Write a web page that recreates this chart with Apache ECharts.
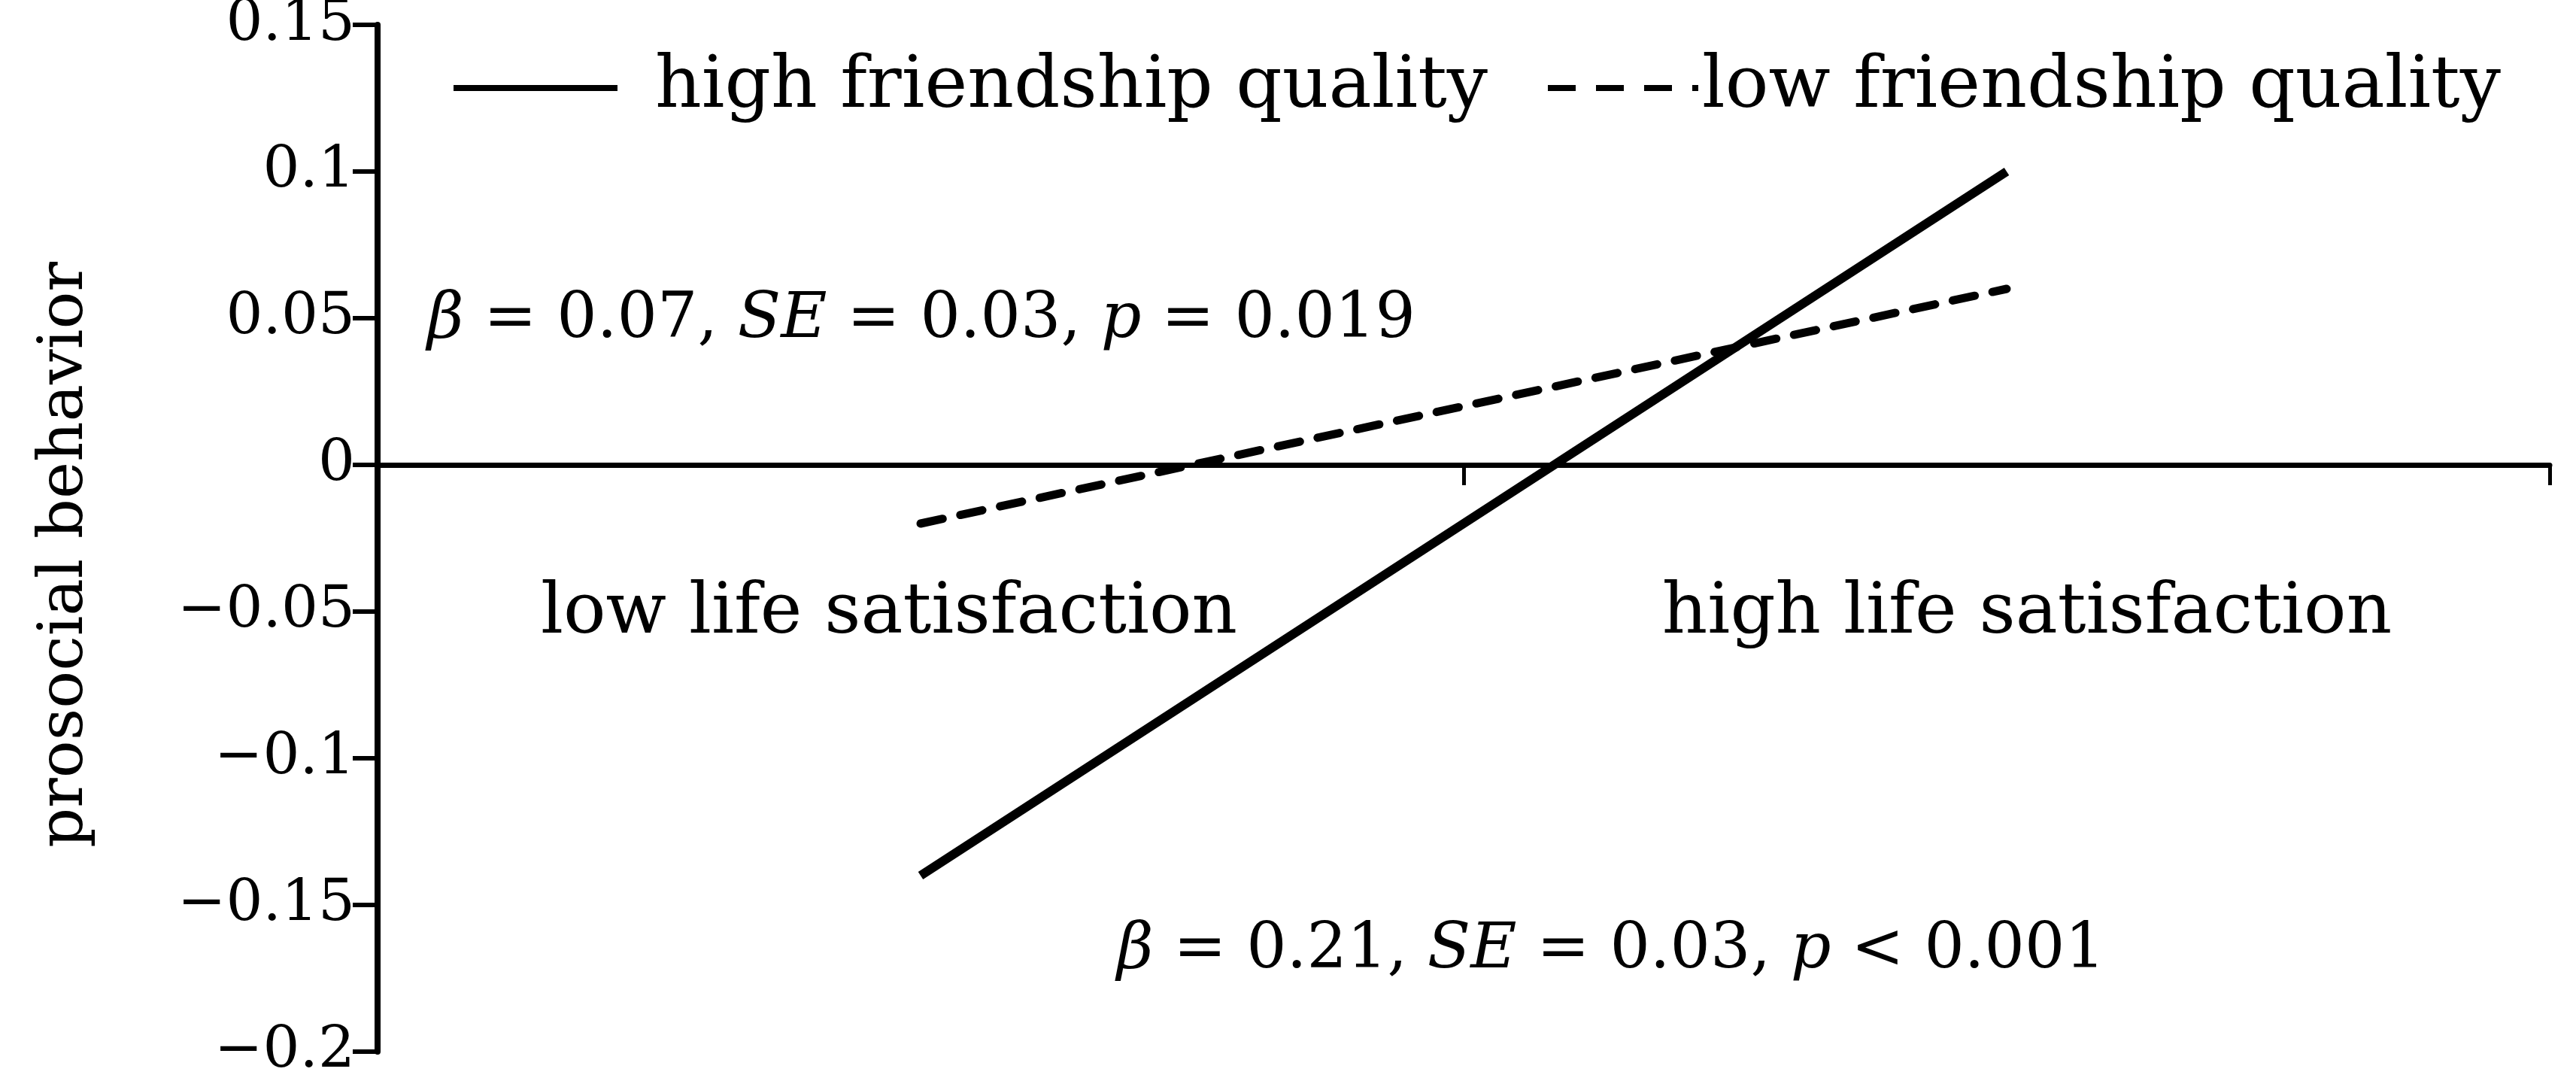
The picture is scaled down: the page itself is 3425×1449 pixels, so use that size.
<!DOCTYPE html>
<html>
<head>
<meta charset="utf-8">
<script src="https://cdn.jsdelivr.net/npm/echarts@6/dist/echarts.min.js"></script>
<style>
	html, body { margin: 0; padding: 0; background: #fff; }
	#chart { width: 3425px; height: 1449px; }
</style>
</head>
<body>
<div id="chart"></div>
<script>
const categories = ['low life satisfaction', 'high life satisfaction'];
const seriesNames = ['high friendship quality', 'low friendship quality'];
const highFriendship = [-0.14, 0.1];
const lowFriendship = [-0.02, 0.06];
const yMin = -0.2;
const yMax = 0.15;
const yStep = 0.05;
const noteLow = '{i|β} = 0.07, {i|SE} = 0.03, {i|p} = 0.019';
const noteHigh = '{i|β} = 0.21, {i|SE} = 0.03, {i|p} < 0.001';

const font = 'DejaVu Serif';
const noIcon = { color: 'rgba(0,0,0,0)', borderWidth: 0 };
const chart = echarts.init(document.getElementById('chart'));

const opt = {
	animation: false,
	backgroundColor: '#fff',
	grid: { left: 502, right: 35, top: 33, bottom: 51, containLabel: false, outerBoundsMode: 'none' },
	legend: [
		{
			data: [{ name: seriesNames[0], itemStyle: noIcon, lineStyle: { width: 8, type: 'solid', cap: 'butt' } }],
			left: 594,
			top: 64,
			itemWidth: 218,
			itemHeight: 30,
			textStyle: { fontFamily: font, fontSize: 96, color: '#000', padding: [0, 0, 0, 45] }
		},
		{
			data: [{ name: seriesNames[1], itemStyle: noIcon, lineStyle: { width: 8, type: [37, 27], cap: 'butt' } }],
			left: 2049,
			top: 64,
			itemWidth: 200,
			itemHeight: 30,
			textStyle: { fontFamily: font, fontSize: 96, color: '#000' }
		}
	],
	xAxis: {
		type: 'category',
		position: 'bottom',
		offset: 0,
		data: [
			{ value: categories[0], textStyle: { padding: [0, 84, 0, 0] } },
			{ value: categories[1], textStyle: { padding: [0, 0, 0, 54] } }
		],
		boundaryGap: true,
		axisLine: { onZero: false, lineStyle: { color: '#000', width: 7 } },
		axisTick: { show: true, inside: false, length: 27, lineStyle: { width: 5, color: '#000' } },
		axisLabel: { margin: 152, fontFamily: font, fontSize: 94, color: '#000' },
		splitLine: { show: false }
	},
	yAxis: {
		type: 'value',
		min: yMin,
		max: yMax,
		interval: yStep,
		name: 'prosocial behavior',
		nameLocation: 'middle',
		nameRotate: 90,
		nameGap: 373,
		nameTextStyle: { fontFamily: font, fontSize: 83, color: '#000', padding: [0, 44, 0, 0] },
		axisLine: { show: true, lineStyle: { color: '#000', width: 8 } },
		axisTick: { show: true, inside: false, length: 33, lineStyle: { width: 6, color: '#000' } },
		axisLabel: {
			margin: 30,
			fontFamily: font,
			fontSize: 77,
			color: '#000',
			formatter: v => String(Math.round(v * 100) / 100).replace('-', '\u2212')
		},
		splitLine: { show: false }
	},
	series: [
		{
			name: seriesNames[0],
			type: 'line',
			data: highFriendship,
			symbol: 'none',
			lineStyle: { color: '#000', width: 12, type: 'solid' },
			itemStyle: { color: '#000' }
		},
		{
			name: seriesNames[1],
			type: 'line',
			data: lowFriendship,
			symbol: 'none',
			lineStyle: { color: '#000', width: 11, type: [30, 24], cap: 'round' },
			itemStyle: { color: '#000' }
		}
	],
	graphic: [
		{
			type: 'text',
			left: 568,
			top: 384,
			style: {
				text: noteLow,
				fontFamily: font,
				fontSize: 84,
				fill: '#000',
				rich: { i: { fontStyle: 'italic', fontFamily: font, fontSize: 84, fill: '#000' } }
			}
		},
		{
			type: 'text',
			left: 1485,
			top: 1222,
			style: {
				text: noteHigh,
				fontFamily: font,
				fontSize: 84,
				fill: '#000',
				rich: { i: { fontStyle: 'italic', fontFamily: font, fontSize: 84, fill: '#000' } }
			}
		}
	]
};
chart.setOption(opt);

// the x axis (line, ticks and labels) sits on y = 0, so lift it from the grid bottom
const zeroY = chart.convertToPixel({ yAxisIndex: 0 }, 0);
const bottomY = chart.convertToPixel({ yAxisIndex: 0 }, yMin);
chart.setOption({ xAxis: { offset: zeroY - bottomY } });
</script>
</body>
</html>
